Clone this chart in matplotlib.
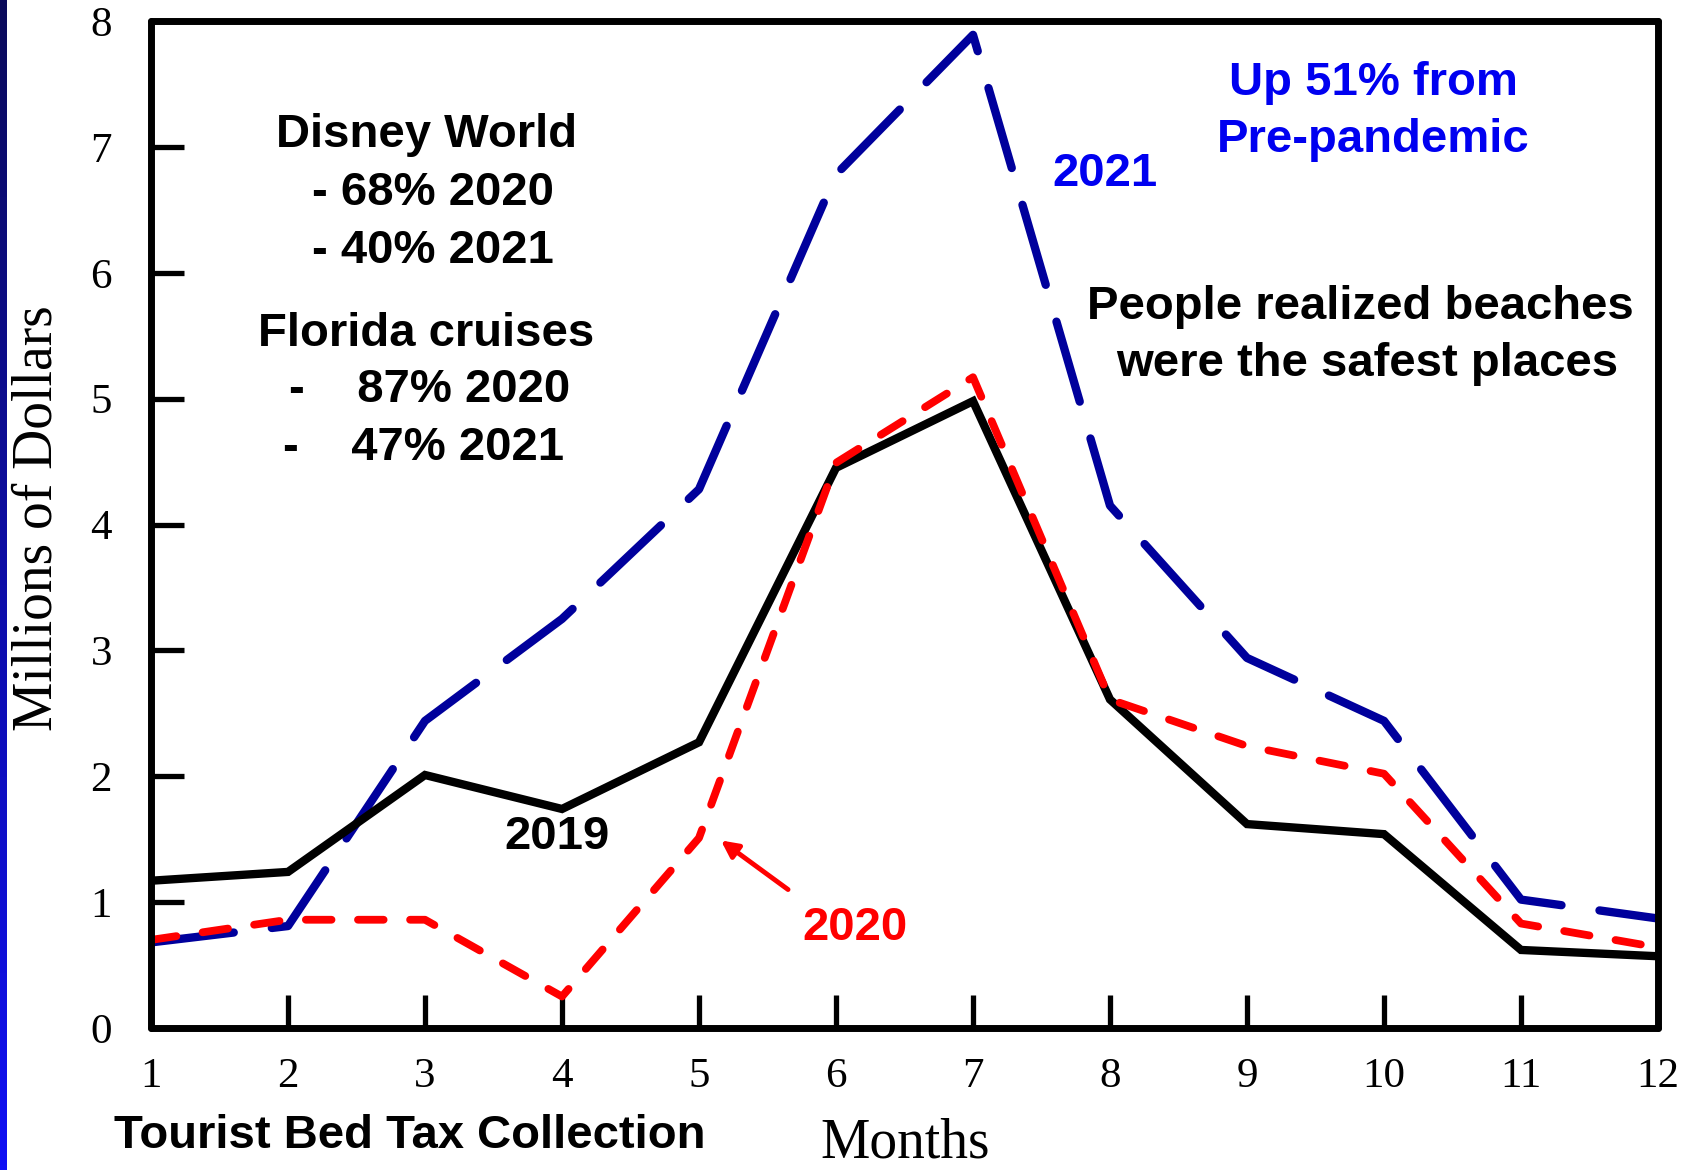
import numpy as np
import matplotlib.pyplot as plt
from matplotlib.colors import LinearSegmentedColormap

# Monthly tourist bed tax collection, millions of dollars
months = np.arange(1, 13)
tax_2019 = [1.17, 1.24, 2.01, 1.74, 2.27, 4.45, 4.98, 2.61, 1.62, 1.54, 0.62, 0.57]
tax_2020 = [0.70, 0.86, 0.86, 0.25, 1.51, 4.49, 5.17, 2.61, 2.24, 2.02, 0.83, 0.64]
tax_2021 = [0.68, 0.81, 2.44, 3.25, 4.28, 6.78, 7.89, 4.15, 2.94, 2.44, 1.02, 0.87]

blue_text = '#0000F0'
navy = '#00009C'
sans = ['Liberation Sans', 'DejaVu Sans']
serif = ['Liberation Serif', 'DejaVu Serif']

fig = plt.figure(figsize=(16.92, 11.70), dpi=100)
ax = fig.add_axes([151 / 1692, 1 - 1028 / 1170, (1658 - 151) / 1692, (1028 - 21) / 1170])

# thin gradient strip down the left edge
strip = fig.add_axes([0, 0, 6 / 1692, 1])
grad = np.linspace(0, 1, 256).reshape(-1, 1)
cmap = LinearSegmentedColormap.from_list('edge', ['#0A0A5A', '#1010F5'])
strip.imshow(grad, aspect='auto', cmap=cmap, origin='upper')
strip.axis('off')

ax.plot(months, tax_2021, color=navy, lw=6, dashes=(10, 4.6),
        dash_capstyle='round', solid_capstyle='round')
ax.plot(months, tax_2019, color='black', lw=6, solid_joinstyle='miter')
ax.plot(months, tax_2020, color='#FF0000', lw=5.6, dashes=(3.3, 3.4),
        dash_capstyle='round')

ax.set_xlim(1, 12)
ax.set_ylim(0, 8)
ax.set_xticks(months)
ax.set_yticks(range(0, 9))
for s in ax.spines.values():
    s.set_linewidth(5)
    s.set_capstyle('round')
ax.tick_params(axis='both', direction='in', length=24, width=3.8)
ax.tick_params(axis='x', pad=21)
ax.tick_params(axis='y', pad=28)
for lab in ax.get_xticklabels() + ax.get_yticklabels():
    lab.set_family(serif)
    lab.set_fontsize(31)

fig.text(38 / 1692, 1 - 518 / 1170, 'Millions of Dollars', rotation=90,
         family=serif, fontsize=40, ha='center', va='center')
fig.text(905 / 1692, 1 - 1158 / 1170, 'Months', family=serif, fontsize=40,
         ha='center', va='baseline')
fig.text(410 / 1692, 1 - 1136 / 1170, 'Tourist Bed Tax Collection', family=sans,
         fontsize=34, fontweight='bold', ha='center', va='center')

bold = dict(family=sans, fontsize=34, fontweight='bold', va='center')

ax.text(3.01, 7.095, 'Disney World', ha='center', **bold)
ax.text(2.175, 6.635, '- 68% 2020', ha='left', **bold)
ax.text(2.175, 6.175, '- 40% 2021', ha='left', **bold)
ax.text(3.01, 5.515, 'Florida cruises', ha='center', **bold)
ax.text(2.01, 5.065, '-    87% 2020', ha='left', **bold)
ax.text(1.96, 4.605, '-    47% 2021', ha='left', **bold)

ax.text(9.92, 7.505, 'Up 51% from', ha='center', color=blue_text, **bold)
ax.text(9.92, 7.055, 'Pre-pandemic', ha='center', color=blue_text, **bold)
ax.text(7.96, 6.785, '2021', ha='center', color=blue_text, **bold)

ax.text(9.83, 5.725, 'People realized beaches', ha='center', **bold)
ax.text(9.88, 5.275, 'were the safest places', ha='center', **bold)

ax.text(3.96, 1.515, '2019', ha='center', **bold)
ax.text(6.14, 0.795, '2020', ha='center', color='#FF0000', **bold)
ax.annotate('', xy=(5.16, 1.49), xytext=(5.65, 1.10),
            arrowprops=dict(arrowstyle='-|>,head_length=1.0,head_width=0.5',
                            color='#FF0000', lw=3.5, shrinkA=0, shrinkB=0))

fig.savefig('out.png', dpi=100)
